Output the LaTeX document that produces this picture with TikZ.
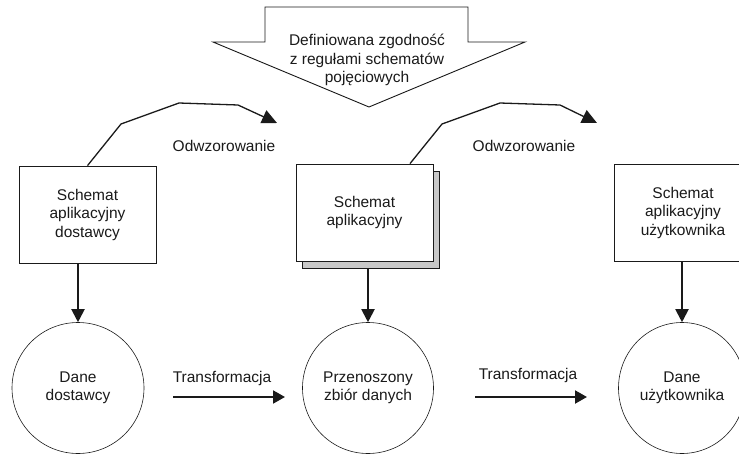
\documentclass[tikz,border=0pt]{standalone}
\usepackage{fontspec}
\setmainfont{Liberation Sans}
\usetikzlibrary{arrows.meta,shapes.geometric}
\definecolor{ink}{HTML}{1A1A1A}
\definecolor{shadowgray}{HTML}{C8C8C8}
\begin{document}
\begin{tikzpicture}[x=1pt,y=-1pt,
  every node/.style={font=\fontsize{15.5}{18.5}\selectfont, text=ink},
  schemabox/.style={draw=ink, line width=0.8pt, fill=white, minimum width=137pt, minimum height=97pt, inner sep=0pt, align=center},
  databall/.style={ellipse, draw=ink, line width=0.6pt, inner sep=0pt, align=center},
  label/.style={inner sep=0pt, align=center},
  maparrow/.style={draw=ink, line width=1.3pt, line join=round, -{Triangle[length=15pt,width=14pt]}},
  downarrow/.style={draw=ink, line width=2pt, -{Triangle[length=13pt,width=13pt]}},
  transarrow/.style={draw=ink, line width=2pt, -{Triangle[length=12pt,width=13pt]}}]
\useasboundingbox (0,0) rectangle (739,455);

% big arrow
\draw[ink, line width=0.9pt, fill=white, line join=miter] (265,7) -- (468,7) -- (468,42) -- (525,42) -- (369,107) -- (213,42) -- (265,42) -- cycle;
\node[label] (rule) at (367,60) {Definiowana zgodność\\z regułami schematów\\pojęciowych};

% boxes
\node[schemabox] (lbox) at (87.5,214.5) {Schemat\\aplikacyjny\\dostawcy};
\node[schemabox, draw=ink, fill=shadowgray] (mshadow) at (370.5,219.5) {};
\node[schemabox] (mbox) at (364.5,212.5) {Schemat\\aplikacyjny};
\node[schemabox, minimum width=138pt] (rbox) at (683,212.5) {Schemat\\aplikacyjny\\użytkownika};

% ellipses
\node[databall, minimum width=132pt, minimum height=131pt] (ldata) at (78,388) {Dane\\dostawcy};
\node[databall, minimum width=131pt, minimum height=131pt] (mdata) at (368,388) {Przenoszony\\zbiór danych};
\node[databall, minimum width=127pt, minimum height=131pt] (rdata) at (682,388) {Dane\\użytkownika};

% mapping polylines
\coordinate (lmapend) at (277,123);
\coordinate (mmapend) at (597,123);
\draw[maparrow] (lbox.north) -- (121,124) -- (179,103) -- (238,105) -- (lmapend);
\draw[maparrow] ([xshift=45.5pt]mbox.north) -- (442,124) -- (500,103) -- (560,105) -- (mmapend);
\node[label] (lmap) at (224,146) {Odwzorowanie};
\node[label] (mmap) at (524,146) {Odwzorowanie};

% vertical arrows
\draw[downarrow] (lbox.south -| ldata.north) -- (ldata.north);
\draw[downarrow] (mshadow.south -| mdata.north) -- (mdata.north);
\draw[downarrow] (rbox.south -| rdata.north) -- (rdata.north);

% transformation arrows
\coordinate (t1s) at (173,397);
\coordinate (t1e) at (285,397);
\coordinate (t2s) at (475,397);
\coordinate (t2e) at (587,397);
\draw[transarrow] (t1s) -- (t1e);
\draw[transarrow] (t2s) -- (t2e);
\node[label] (t1) at (222,378) {Transformacja};
\node[label] (t2) at (528,375) {Transformacja};
\end{tikzpicture}
\end{document}
